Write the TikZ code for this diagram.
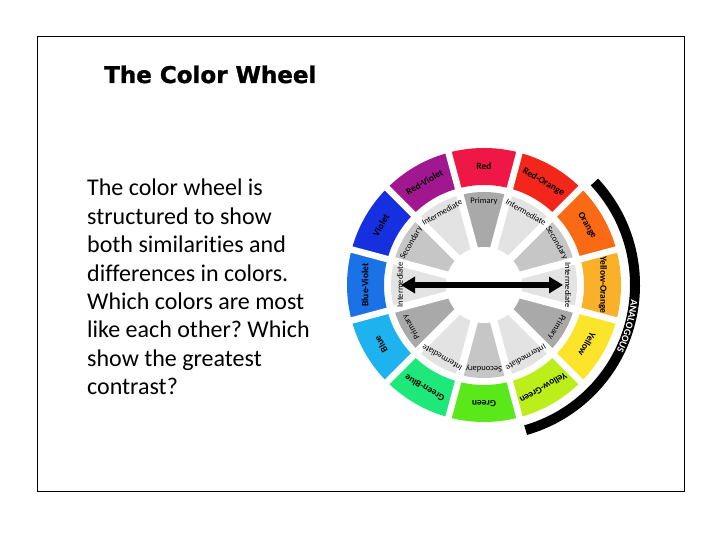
\documentclass[tikz,border=0pt]{standalone}
\usepackage{fontspec}
\usetikzlibrary{arrows.meta,decorations.text}
\newfontfamily\carl{Carlito}[Ligatures={NoCommon}]
\newfontfamily\titlef{DejaVu Sans}[BoldFeatures={FakeBold=1.3}]
\definecolor{cRed}{HTML}{EE1745}
\definecolor{cRO}{HTML}{F2261A}
\definecolor{cO}{HTML}{FA6A14}
\definecolor{cYO}{HTML}{FAB028}
\definecolor{cY}{HTML}{FCE42A}
\definecolor{cYG}{HTML}{BCEE1C}
\definecolor{cG}{HTML}{5AE81A}
\definecolor{cGB}{HTML}{1EE87A}
\definecolor{cB}{HTML}{1EB2EE}
\definecolor{cBV}{HTML}{1A72E6}
\definecolor{cV}{HTML}{1630E0}
\definecolor{cRV}{HTML}{A0178F}
\definecolor{gP}{HTML}{A9A9A9}
\definecolor{gS}{HTML}{C6C6C6}
\definecolor{gI}{HTML}{E3E3E3}
\tikzset{
  outerlab/.style={font=\carl\bfseries\fontsize{9.5}{10}\selectfont, inner sep=0, text=black},
  innerlab/.style={font=\carl\fontsize{8.5}{10}\selectfont, inner sep=0, text=black},
  gapline/.style={white, line width=#1},
}
\begin{document}
\frenchspacing
\begin{tikzpicture}[x=1pt,y=1pt]
\useasboundingbox (0,0) rectangle (720,540);
\fill[white] (0,0) rectangle (720,540);
\draw[line width=1pt] (37,48) rectangle (684,503);
\node[anchor=base west, inner sep=0, font=\titlef\bfseries\fontsize{23}{28}\selectfont] (title) at (104,457) {The Color Wheel};
\node[anchor=base west, inner sep=0, font=\carl\fontsize{24}{28.4}\selectfont] (body) at (87,344)
  {\parbox[t]{260pt}{\raggedright\frenchspacing The color wheel is\\ structured to show\\ both similarities and\\ differences in colors.\\ Which colors are most\\ like each other? Which\\ show the greatest\\ contrast?}};
\begin{scope}[shift={(484,255)}]
  \foreach \i/\col/\lab [evaluate=\i as \a using 90-30*\i] in
    {0/cRed/Red, 1/cRO/Red-Orange, 2/cO/Orange, 3/cYO/Yellow-Orange, 4/cY/Yellow, 5/cYG/Yellow-Green,
     6/cG/Green, 7/cGB/Green-Blue, 8/cB/Blue, 9/cBV/Blue-Violet, 10/cV/Violet, 11/cRV/Red-Violet}{
    \fill[\col] (\a-15:100pt) arc[start angle=\a-15, end angle=\a+15, radius=100pt]
      -- (\a+15:137pt) arc[start angle=\a+15, end angle=\a-15, radius=137pt] -- cycle;
    \node[outerlab, rotate=\a-90] (o\i) at (\a:119pt) {\lab};
  }
  \foreach \i/\col [evaluate=\i as \a using 90-30*\i] in
    {0/gP, 1/gI, 2/gS, 3/gI, 4/gP, 5/gI, 6/gS, 7/gI, 8/gP, 9/gI, 10/gS, 11/gI}{
    \fill[\col] (0,0) -- (\a-15:93pt) arc[start angle=\a-15, end angle=\a+15, radius=93pt] -- cycle;
  }
  \foreach \i [evaluate=\i as \a using 105-30*\i] in {0,...,11}{
    \draw[gapline=6.5pt] (\a:96pt) -- (\a:140pt);
    \draw[gapline=7.5pt] (\a:30pt) -- (\a:96pt);
  }
  \fill[white] (0,0) circle[radius=38pt];
  \foreach \i/\lab [evaluate=\i as \a using 90-30*\i] in
    {0/Primary, 1/Intermediate, 2/Secondary, 3/Intermediate, 4/Primary, 5/Intermediate,
     6/Secondary, 7/Intermediate, 8/Primary, 9/Intermediate, 10/Secondary, 11/Intermediate}{
    \node[innerlab, rotate=\a-90] (in\i) at (\a:84pt) {\lab};
  }
  \draw[line width=10pt] (43:151pt) arc[start angle=43, end angle=-74, radius=151pt];
  \path[decorate, decoration={text along path, text align=center, raise=-3.2pt, text color=white,
      text={|\carl\bfseries\fontsize{10}{10}\selectfont|ANALOGOUS}}]
    (-2:151pt) arc[start angle=-2, end angle=-30, radius=151pt];
\end{scope}
\coordinate (aL) at (401,255);
\coordinate (aR) at (563,255);
\draw[line width=6.5pt, {Triangle[length=14pt,width=16pt]}-{Triangle[length=14pt,width=16pt]}] (aL) -- (aR);
\end{tikzpicture}
\end{document}
